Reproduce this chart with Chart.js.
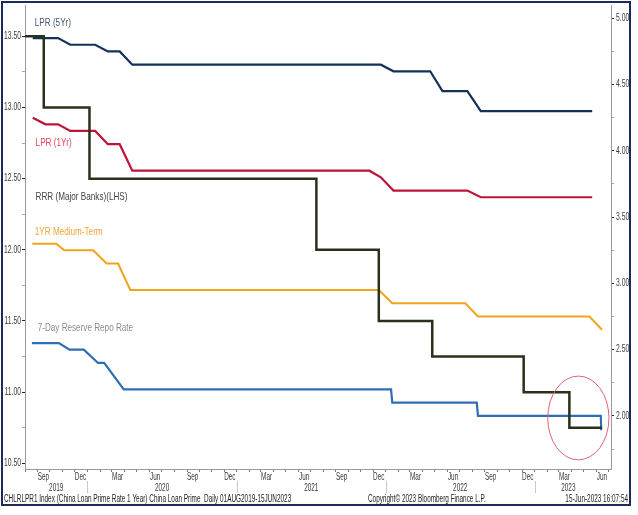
<!DOCTYPE html>
<html>
<head>
<meta charset="utf-8">
<title>China policy rates</title>
<script src="https://cdn.jsdelivr.net/npm/chart.js@4.4.0/dist/chart.umd.min.js"></script>
<style>
html, body { margin: 0; padding: 0; background: #fff; }
#wrap { position: relative; width: 638px; height: 515px; }
</style>
</head>
<body>
<div id="wrap"><canvas id="chart" width="638" height="515"></canvas></div>
<script>
// data (dates where the line bends)
const rrrDates = ['2019-08-01', '2019-09-16', '2020-01-06', '2021-07-15', '2021-12-15', '2022-04-25', '2022-12-05', '2023-03-27', '2023-06-15'];
const rrrValues = [13.50, 13.00, 12.50, 12.00, 11.50, 11.25, 11.00, 10.75, 10.75];

const lpr5yDates = ['2019-08-20', '2019-10-21', '2019-11-20', '2020-01-20', '2020-02-20', '2020-03-20', '2020-04-20', '2021-12-20', '2022-01-20', '2022-04-20', '2022-05-20', '2022-07-20', '2022-08-22', '2023-05-22'];
const lpr5yValues = [4.85, 4.85, 4.80, 4.80, 4.75, 4.75, 4.65, 4.65, 4.60, 4.60, 4.45, 4.45, 4.30, 4.30];

const lpr1yDates = ['2019-08-20', '2019-09-20', '2019-10-21', '2019-11-20', '2020-01-20', '2020-02-20', '2020-03-20', '2020-04-20', '2021-11-22', '2021-12-20', '2022-01-20', '2022-07-20', '2022-08-22', '2023-05-22'];
const lpr1yValues = [4.25, 4.20, 4.20, 4.15, 4.15, 4.05, 4.05, 3.85, 3.85, 3.80, 3.70, 3.70, 3.65, 3.65];

const mlfDates = ['2019-08-19', '2019-10-17', '2019-11-05', '2020-01-15', '2020-02-17', '2020-03-16', '2020-04-15', '2021-12-15', '2022-01-17', '2022-07-15', '2022-08-15', '2023-05-15', '2023-06-15'];
const mlfValues = [3.30, 3.30, 3.25, 3.25, 3.15, 3.15, 2.95, 2.95, 2.85, 2.85, 2.75, 2.75, 2.65];

const repoDates = ['2019-08-18', '2019-10-23', '2019-11-18', '2019-12-23', '2020-01-27', '2020-02-11', '2020-03-30', '2022-01-14', '2022-01-17', '2022-08-12', '2022-08-15', '2023-06-12', '2023-06-13', '2023-06-15'];
const repoValues = [2.55, 2.55, 2.50, 2.50, 2.40, 2.40, 2.20, 2.20, 2.10, 2.10, 2.00, 2.00, 1.90, 1.90];

const seriesNames = ['RRR (Major Banks)(LHS)', 'LPR (5Yr)', 'LPR (1Yr)', '1YR Medium-Term', '7-Day Reserve Repo Rate'];
const monthNames = ['Jan', 'Feb', 'Mar', 'Apr', 'May', 'Jun', 'Jul', 'Aug', 'Sep', 'Oct', 'Nov', 'Dec'];
const labelledMonths = ['Mar', 'Jun', 'Sep', 'Dec'];
const yearLabels = ['2019', '2020', '2021', '2022', '2023'];
const leftTicks = [10.50, 10.75, 11.00, 11.25, 11.50, 11.75, 12.00, 12.25, 12.50, 12.75, 13.00, 13.25, 13.50];
const rightTicks = [1.75, 2.00, 2.25, 2.50, 2.75, 3.00, 3.25, 3.50, 3.75, 4.00, 4.25, 4.50, 4.75, 5.00];

const footerLeft = 'CHLRLPR1 Index (China Loan Prime Rate 1 Year) China Loan Prime  Daily 01AUG2019-15JUN2023';
const footerMid = 'Copyright\u00A9 2023 Bloomberg Finance L.P.';
const footerRight = '15-Jun-2023 16:07:54';

const START = Date.UTC(2019, 7, 1);
function day(s) { return (Date.parse(s) - START) / 86400000; }
function toPoints(dates, values) { return dates.map((d, i) => ({ x: day(d), y: values[i] })); }
function dateOf(v) { return new Date(START + v * 86400000); }
function isHalf(v) { return Math.round(v * 100) % 50 === 0; }
function monthLabel(v) {
    const d = dateOf(v);
    if (d.getUTCDate() !== 15) return '';
    const name = monthNames[d.getUTCMonth()];
    return labelledMonths.includes(name) ? name : '';
}

// the Bloomberg font is a narrow one, none installed, so squeeze Liberation Sans
const FONT = "'Liberation Sans', Arial, sans-serif";
const xMin = day('2019-08-01');
const xMax = day('2023-07-07');

const colors = {
    rrr: '#28321a',
    lpr5y: '#15305a',
    lpr1y: '#bd1438',
    mlf: '#f2a31e',
    repo: '#2f6db5'
};

// series names placed as in the picture (x = date, y = value on right axis)
const nameTags = [
    { text: seriesNames[1], x: '2019-08-25', y: 4.965, color: '#3f5470' },
    { text: seriesNames[2], x: '2019-08-27', y: 4.06, color: '#e2405c' },
    { text: seriesNames[0], x: '2019-08-27', y: 3.655, color: '#444444' },
    { text: seriesNames[3], x: '2019-08-25', y: 3.385, color: '#f2a33a' },
    { text: seriesNames[4], x: '2019-09-01', y: 2.665, color: '#8a8a8a' }
];

function squeezed(ctx, text, x, y, align, sx) {
    ctx.save();
    ctx.translate(x, y);
    ctx.scale(sx, 1);
    ctx.textAlign = align;
    ctx.fillText(text, 0, 0);
    ctx.restore();
}

const decor = {
    id: 'decor',
    afterDraw(chart) {
        const ctx = chart.ctx;
        const xs = chart.scales.x;
        const yL = chart.scales.yL;
        const yR = chart.scales.yR;
        const area = chart.chartArea;
        ctx.save();
        ctx.textBaseline = 'middle';
        ctx.font = '10px ' + FONT;
        ctx.fillStyle = '#3a3a3a';

        // axis tick labels
        yL.ticks.forEach(t => {
            if (isHalf(t.value)) squeezed(ctx, t.value.toFixed(2), area.left - 4, yL.getPixelForValue(t.value), 'right', 0.68);
        });
        yR.ticks.forEach(t => {
            if (isHalf(t.value)) squeezed(ctx, t.value.toFixed(2), area.right + 5, yR.getPixelForValue(t.value), 'left', 0.68);
        });
        xs.ticks.forEach(t => {
            const lab = monthLabel(t.value);
            if (lab) squeezed(ctx, lab, xs.getPixelForValue(t.value), area.bottom + 8, 'center', 0.64);
        });

        // year separators and labels
        let prev = area.left;
        yearLabels.forEach((yr, i) => {
            const last = i === yearLabels.length - 1;
            const next = xs.getPixelForValue(last ? day('2023-06-15') : day((+yr + 1) + '-01-01'));
            squeezed(ctx, yr, (prev + next) / 2, area.bottom + 19, 'center', 0.64);
            if (!last) {
                ctx.strokeStyle = '#c8c8c8';
                ctx.lineWidth = 1;
                ctx.beginPath();
                ctx.moveTo(Math.round(next) + 0.5, area.bottom + 12);
                ctx.lineTo(Math.round(next) + 0.5, area.bottom + 24);
                ctx.stroke();
            }
            prev = next;
        });

        // footer
        ctx.fillStyle = '#222';
        squeezed(ctx, footerLeft, 4, area.bottom + 30, 'left', 0.64);
        squeezed(ctx, footerMid, 368, area.bottom + 30, 'left', 0.64);
        squeezed(ctx, footerRight, 628, area.bottom + 30, 'right', 0.64);

        // series names
        ctx.font = '11px ' + FONT;
        nameTags.forEach(t => {
            ctx.fillStyle = t.color;
            squeezed(ctx, t.text, xs.getPixelForValue(day(t.x)), yR.getPixelForValue(t.y), 'left', 0.74);
        });

        // red ellipse around the latest moves
        const cx = xs.getPixelForValue(day('2023-04-18'));
        const cy = yR.getPixelForValue(1.985);
        const rx = xs.getPixelForValue(day('2023-04-18') + 75) - cx;
        const ry = yR.getPixelForValue(1.985 - 0.316) - cy;
        ctx.strokeStyle = '#e06272';
        ctx.lineWidth = 1;
        ctx.beginPath();
        ctx.ellipse(cx, cy, rx, ry, 0, 0, Math.PI * 2);
        ctx.stroke();

        // outer frame
        ctx.strokeStyle = '#1c2a5c';
        ctx.lineWidth = 2;
        ctx.strokeRect(2, 2, 628, 503);
        ctx.restore();
    }
};

function lineSet(label, dates, values, color, axis, width, stepped) {
    return {
        label: label,
        data: toPoints(dates, values),
        borderColor: color,
        backgroundColor: color,
        borderWidth: width,
        pointRadius: 0,
        tension: 0,
        stepped: stepped || false,
        yAxisID: axis
    };
}

const tickMarkColor = (c) => (c.tick && isHalf(c.tick.value)) ? '#222' : '#aaa';

new Chart(document.getElementById('chart'), {
    type: 'line',
    data: {
        datasets: [
            lineSet(seriesNames[0], rrrDates, rrrValues, colors.rrr, 'yL', 2.5, 'before'),
            lineSet(seriesNames[1], lpr5yDates, lpr5yValues, colors.lpr5y, 'yR', 2.2),
            lineSet(seriesNames[2], lpr1yDates, lpr1yValues, colors.lpr1y, 'yR', 2.2),
            lineSet(seriesNames[3], mlfDates, mlfValues, colors.mlf, 'yR', 2),
            lineSet(seriesNames[4], repoDates, repoValues, colors.repo, 'yR', 2.2)
        ]
    },
    options: {
        responsive: false,
        animation: false,
        layout: { padding: { top: 5, bottom: 26, left: 0, right: 0 } },
        plugins: {
            legend: { display: false },
            tooltip: { enabled: false }
        },
        scales: {
            x: {
                type: 'linear',
                min: xMin,
                max: xMax,
                afterBuildTicks: (scale) => {
                    const ticks = [];
                    for (let y = 2019; y <= 2023; y++) {
                        for (let m = 0; m < 12; m++) {
                            const first = (Date.UTC(y, m, 1) - START) / 86400000;
                            const mid = (Date.UTC(y, m, 15) - START) / 86400000;
                            if (first >= xMin && first <= xMax) ticks.push({ value: first });
                            if (mid >= xMin && mid <= xMax) ticks.push({ value: mid });
                        }
                    }
                    scale.ticks = ticks;
                },
                afterFit: (scale) => { scale.height = 20; },
                ticks: { display: false, autoSkip: false },
                grid: {
                    drawOnChartArea: false,
                    tickLength: 3,
                    tickColor: (c) => (c.tick && dateOf(c.tick.value).getUTCDate() === 15) ? 'rgba(0,0,0,0)' : '#777'
                },
                border: { display: true, color: '#999' }
            },
            yL: {
                type: 'linear',
                position: 'left',
                min: 10.46,
                max: 13.72,
                afterBuildTicks: (scale) => { scale.ticks = leftTicks.map(v => ({ value: v })); },
                afterFit: (scale) => { scale.width = 25; },
                ticks: { display: false },
                grid: { drawOnChartArea: false, tickLength: 3, tickColor: tickMarkColor },
                border: { display: true, color: '#999' }
            },
            yR: {
                type: 'linear',
                position: 'right',
                min: 1.60,
                max: 5.10,
                afterBuildTicks: (scale) => { scale.ticks = rightTicks.map(v => ({ value: v })); },
                afterFit: (scale) => { scale.width = 27; },
                ticks: { display: false },
                grid: { drawOnChartArea: false, tickLength: 3, tickColor: tickMarkColor },
                border: { display: true, color: '#999' }
            }
        }
    },
    plugins: [decor]
});
</script>
</body>
</html>
